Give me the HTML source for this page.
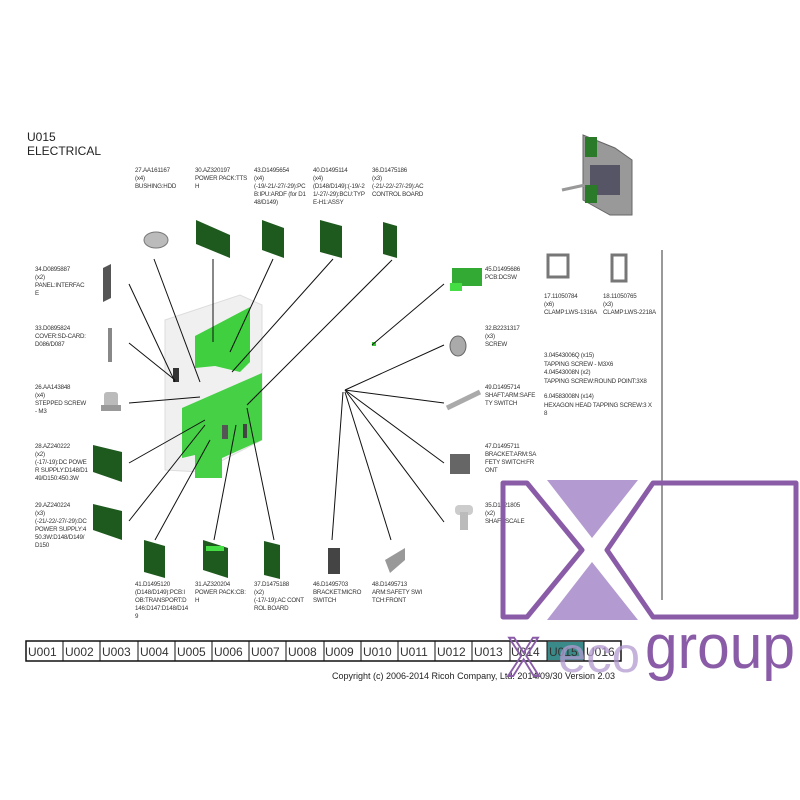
<!DOCTYPE html>
<html><head><meta charset="utf-8"><style>
html,body{margin:0;padding:0;background:#fff}
svg{display:block}
text{font-family:"Liberation Sans",sans-serif;fill:#333}
.s{font-size:6.2px;letter-spacing:-0.2px}
</style></head><body>
<svg width="800" height="800" viewBox="0 0 800 800" xmlns="http://www.w3.org/2000/svg">
<rect width="800" height="800" fill="#fff"/>
<text x="27" y="141" font-size="12" style="fill:#222">U015</text>
<text x="27" y="155" font-size="12" style="fill:#222">ELECTRICAL</text>

<g class="s">
<text x="135" y="172">27.AA161167</text><text x="135" y="180">(x4)</text><text x="135" y="188">BUSHING:HDD</text>
<text x="195" y="172">30.AZ320197</text><text x="195" y="180">POWER PACK:TTS</text><text x="195" y="188">H</text>
<text x="254" y="172">43.D1495654</text><text x="254" y="180">(x4)</text><text x="254" y="188">(-19/-21/-27/-29):PC</text><text x="254" y="196">B:IPU:ARDF (for D1</text><text x="254" y="204">48/D149)</text>
<text x="313" y="172">40.D1495114</text><text x="313" y="180">(x4)</text><text x="313" y="188">(D148/D149):(-19/-2</text><text x="313" y="196">1/-27/-29):BCU:TYP</text><text x="313" y="204">E-H1:ASSY</text>
<text x="372" y="172">36.D1475186</text><text x="372" y="180">(x3)</text><text x="372" y="188">(-21/-22/-27/-29):AC</text><text x="372" y="196"> CONTROL BOARD</text>
<text x="35" y="271">34.D0895887</text><text x="35" y="279">(x2)</text><text x="35" y="287">PANEL:INTERFAC</text><text x="35" y="295">E</text>
<text x="35" y="330">33.D0895824</text><text x="35" y="338">COVER:SD-CARD:</text><text x="35" y="346">D086/D087</text>
<text x="35" y="389">26.AA143848</text><text x="35" y="397">(x4)</text><text x="35" y="405">STEPPED SCREW</text><text x="35" y="413">- M3</text>
<text x="35" y="448">28.AZ240222</text><text x="35" y="456">(x2)</text><text x="35" y="464">(-17/-19):DC POWE</text><text x="35" y="472">R SUPPLY:D148/D1</text><text x="35" y="480">49/D150:450.3W</text>
<text x="35" y="507">29.AZ240224</text><text x="35" y="515">(x3)</text><text x="35" y="523">(-21/-22/-27/-29):DC</text><text x="35" y="531"> POWER SUPPLY:4</text><text x="35" y="539">50.3W:D148/D149/</text><text x="35" y="547">D150</text>
<text x="135" y="586">41.D1495120</text><text x="135" y="594">(D148/D149):PCB:I</text><text x="135" y="602">OB:TRANSPORT:D</text><text x="135" y="610">146:D147:D148/D14</text><text x="135" y="618">9</text>
<text x="195" y="586">31.AZ320204</text><text x="195" y="594">POWER PACK:CB:</text><text x="195" y="602">H</text>
<text x="254" y="586">37.D1475188</text><text x="254" y="594">(x2)</text><text x="254" y="602">(-17/-19):AC CONT</text><text x="254" y="610">ROL BOARD</text>
<text x="313" y="586">46.D1495703</text><text x="313" y="594">BRACKET:MICRO</text><text x="313" y="602">SWITCH</text>
<text x="372" y="586">48.D1495713</text><text x="372" y="594">ARM:SAFETY SWI</text><text x="372" y="602">TCH:FRONT</text>
<text x="485" y="271">45.D1495686</text><text x="485" y="279">PCB:DCSW</text>
<text x="544" y="298">17.11050784</text><text x="544" y="306">(x6)</text><text x="544" y="314">CLAMP:LWS-1316A</text>
<text x="603" y="298">18.11050765</text><text x="603" y="306">(x3)</text><text x="603" y="314">CLAMP:LWS-2218A</text>
<text x="485" y="330">32.B2231317</text><text x="485" y="338">(x3)</text><text x="485" y="346">SCREW</text>
<text x="544" y="357">3.04543006Q (x15)</text><text x="544" y="366">TAPPING SCREW - M3X6</text><text x="544" y="374">4.04543008N (x2)</text><text x="544" y="383">TAPPING SCREW:ROUND POINT:3X8</text>
<text x="544" y="398">6.04583008N (x14)</text><text x="544" y="407">HEXAGON HEAD TAPPING SCREW:3 X</text><text x="544" y="415">8</text>
<text x="485" y="389">49.D1495714</text><text x="485" y="397">SHAFT:ARM:SAFE</text><text x="485" y="405">TY SWITCH</text>
<text x="485" y="448">47.D1495711</text><text x="485" y="456">BRACKET:ARM:SA</text><text x="485" y="464">FETY SWITCH:FR</text><text x="485" y="472">ONT</text>
<text x="485" y="507">35.D1421805</text><text x="485" y="515">(x2)</text><text x="485" y="523">SHAFT:SCALE</text>
</g>
<line x1="662" y1="250" x2="662" y2="600" stroke="#333" stroke-width="1"/>

<polygon points="165,320 240,295 262,305 262,440 200,472 165,470" fill="#f0f0f0" stroke="#ddd"/>
<polygon points="195,336 250,307 250,362 240,372 215,366 195,368" fill="#3fcf3f"/>
<polygon points="182,408 262,373 262,440 222,458 222,478 195,478 195,455 182,458" fill="#45d045"/>
<rect x="173" y="368" width="6" height="14" fill="#333"/>
<rect x="222" y="425" width="6" height="14" fill="#555"/>
<rect x="243" y="424" width="4" height="14" fill="#444"/>
<polygon points="583,135 615,148 632,160 632,215 610,215 583,200" fill="#999" stroke="#666"/>
<rect x="585" y="137" width="12" height="20" fill="#2a7a2a"/>
<rect x="590" y="165" width="30" height="30" fill="#556"/>
<rect x="585" y="185" width="12" height="18" fill="#2a7a2a"/>
<line x1="562" y1="190" x2="585" y2="185" stroke="#999" stroke-width="3"/>

<ellipse cx="156" cy="240" rx="12" ry="8" fill="#bbb" stroke="#777"/>
<polygon points="196,220 230,235 230,258 196,244" fill="#1e5a1e"/>
<polygon points="262,220 284,228 284,258 262,250" fill="#1e5a1e"/>
<polygon points="320,220 342,226 342,258 320,252" fill="#1e5a1e"/>
<polygon points="383,222 397,226 397,258 383,254" fill="#1e5a1e"/>
<polygon points="103,268 111,264 111,298 103,302" fill="#555"/>
<rect x="108" y="328" width="4" height="34" fill="#888"/>
<rect x="104" y="392" width="14" height="16" rx="3" fill="#bbb"/><rect x="101" y="405" width="20" height="6" fill="#999"/>
<polygon points="93,445 122,452 122,482 93,472" fill="#1e5a1e"/>
<polygon points="93,504 122,511 122,540 93,530" fill="#1e5a1e"/>
<polygon points="144,540 165,546 165,578 144,572" fill="#1e5a1e"/>
<polygon points="203,540 228,548 228,578 203,570" fill="#1e5a1e"/><rect x="206" y="546" width="18" height="5" fill="#44dd44"/>
<polygon points="264,541 280,545 280,579 264,575" fill="#1e5a1e"/>
<rect x="328" y="548" width="12" height="26" fill="#444"/>
<polygon points="385,560 405,548 405,560 390,573" fill="#999"/>
<rect x="452" y="268" width="30" height="18" fill="#3a3"/><rect x="450" y="283" width="12" height="8" fill="#4d4"/>
<rect x="372" y="342" width="4" height="4" fill="#3c3"/>
<ellipse cx="458" cy="346" rx="8" ry="10" fill="#aaa" stroke="#666"/>
<line x1="447" y1="408" x2="480" y2="392" stroke="#aaa" stroke-width="5"/>
<rect x="450" y="454" width="20" height="20" fill="#666"/>
<rect x="455" y="505" width="18" height="10" rx="4" fill="#ccc"/><rect x="460" y="512" width="8" height="18" fill="#bbb"/>
<rect x="548" y="255" width="20" height="22" fill="none" stroke="#777" stroke-width="3"/>
<rect x="612" y="255" width="14" height="26" fill="none" stroke="#777" stroke-width="3"/>

<g stroke="#111" stroke-width="1">
<line x1="154" y1="259" x2="200" y2="382"/>
<line x1="213" y1="259" x2="213" y2="342"/>
<line x1="273" y1="259" x2="230" y2="352"/>
<line x1="333" y1="259" x2="232" y2="372"/>
<line x1="392" y1="260" x2="247" y2="405"/>
<line x1="129" y1="284" x2="175" y2="382"/>
<line x1="129" y1="343" x2="175" y2="380"/>
<line x1="129" y1="403" x2="200" y2="397"/>
<line x1="129" y1="463" x2="205" y2="420"/>
<line x1="129" y1="521" x2="205" y2="425"/>
<line x1="155" y1="540" x2="210" y2="440"/>
<line x1="214" y1="540" x2="236" y2="425"/>
<line x1="274" y1="540" x2="247" y2="408"/>
<line x1="444" y1="284" x2="372" y2="345"/>
<line x1="444" y1="345" x2="345" y2="390"/>
<line x1="444" y1="403" x2="345" y2="390"/>
<line x1="444" y1="463" x2="345" y2="390"/>
<line x1="444" y1="522" x2="345" y2="390"/>
<line x1="332" y1="540" x2="343" y2="392"/>
<line x1="391" y1="540" x2="345" y2="392"/>
</g>

<rect x="26" y="641" width="595" height="20" fill="#fff" stroke="#111" stroke-width="1.5"/>
<rect x="547" y="642" width="37" height="18" fill="#3a8a8a"/>
<g font-size="12" style="fill:#111">
<text x="28" y="656">U001</text><text x="65" y="656">U002</text><text x="102" y="656">U003</text><text x="140" y="656">U004</text><text x="177" y="656">U005</text><text x="214" y="656">U006</text><text x="251" y="656">U007</text><text x="288" y="656">U008</text><text x="325" y="656">U009</text><text x="363" y="656">U010</text><text x="400" y="656">U011</text><text x="437" y="656">U012</text><text x="474" y="656">U013</text><text x="511" y="656">U014</text><text x="549" y="656">U015</text><text x="586" y="656">U016</text>
</g>
<g stroke="#111" stroke-width="1">
<line x1="63" y1="641" x2="63" y2="661"/><line x1="100" y1="641" x2="100" y2="661"/><line x1="138" y1="641" x2="138" y2="661"/><line x1="175" y1="641" x2="175" y2="661"/><line x1="212" y1="641" x2="212" y2="661"/><line x1="249" y1="641" x2="249" y2="661"/><line x1="286" y1="641" x2="286" y2="661"/><line x1="324" y1="641" x2="324" y2="661"/><line x1="361" y1="641" x2="361" y2="661"/><line x1="398" y1="641" x2="398" y2="661"/><line x1="435" y1="641" x2="435" y2="661"/><line x1="472" y1="641" x2="472" y2="661"/><line x1="510" y1="641" x2="510" y2="661"/><line x1="547" y1="641" x2="547" y2="661"/><line x1="584" y1="641" x2="584" y2="661"/>
</g>
<text x="332" y="679" font-size="9" style="fill:#222">Copyright (c) 2006-2014 Ricoh Company, Ltd.    2014/09/30 Version 2.03</text>

<polygon points="547,480 638,480 592,538" fill="#b39ad0"/>
<polygon points="592,562 547,620 638,620" fill="#b39ad0"/>
<path d="M503,483 L527,483 L582,550 L527,617 L503,617 Z" fill="none" stroke="#8a5ca8" stroke-width="5" stroke-linejoin="round"/>
<path d="M653,483 L796,483 L796,617 L653,617 L607,550 Z" fill="none" stroke="#8a5ca8" stroke-width="5" stroke-linejoin="round"/>
<text x="507" y="676" font-size="56" textLength="33" lengthAdjust="spacingAndGlyphs" style="fill:none;stroke:#8a5ca8;stroke-width:2">X</text>
<text x="558" y="672" font-size="50" textLength="82" lengthAdjust="spacingAndGlyphs" style="fill:#b39ad0;fill-opacity:0.75">eco</text>
<text x="645" y="668" font-size="62" textLength="150" lengthAdjust="spacingAndGlyphs" style="fill:#8a5ca8">group</text>
</svg>
</body></html>
